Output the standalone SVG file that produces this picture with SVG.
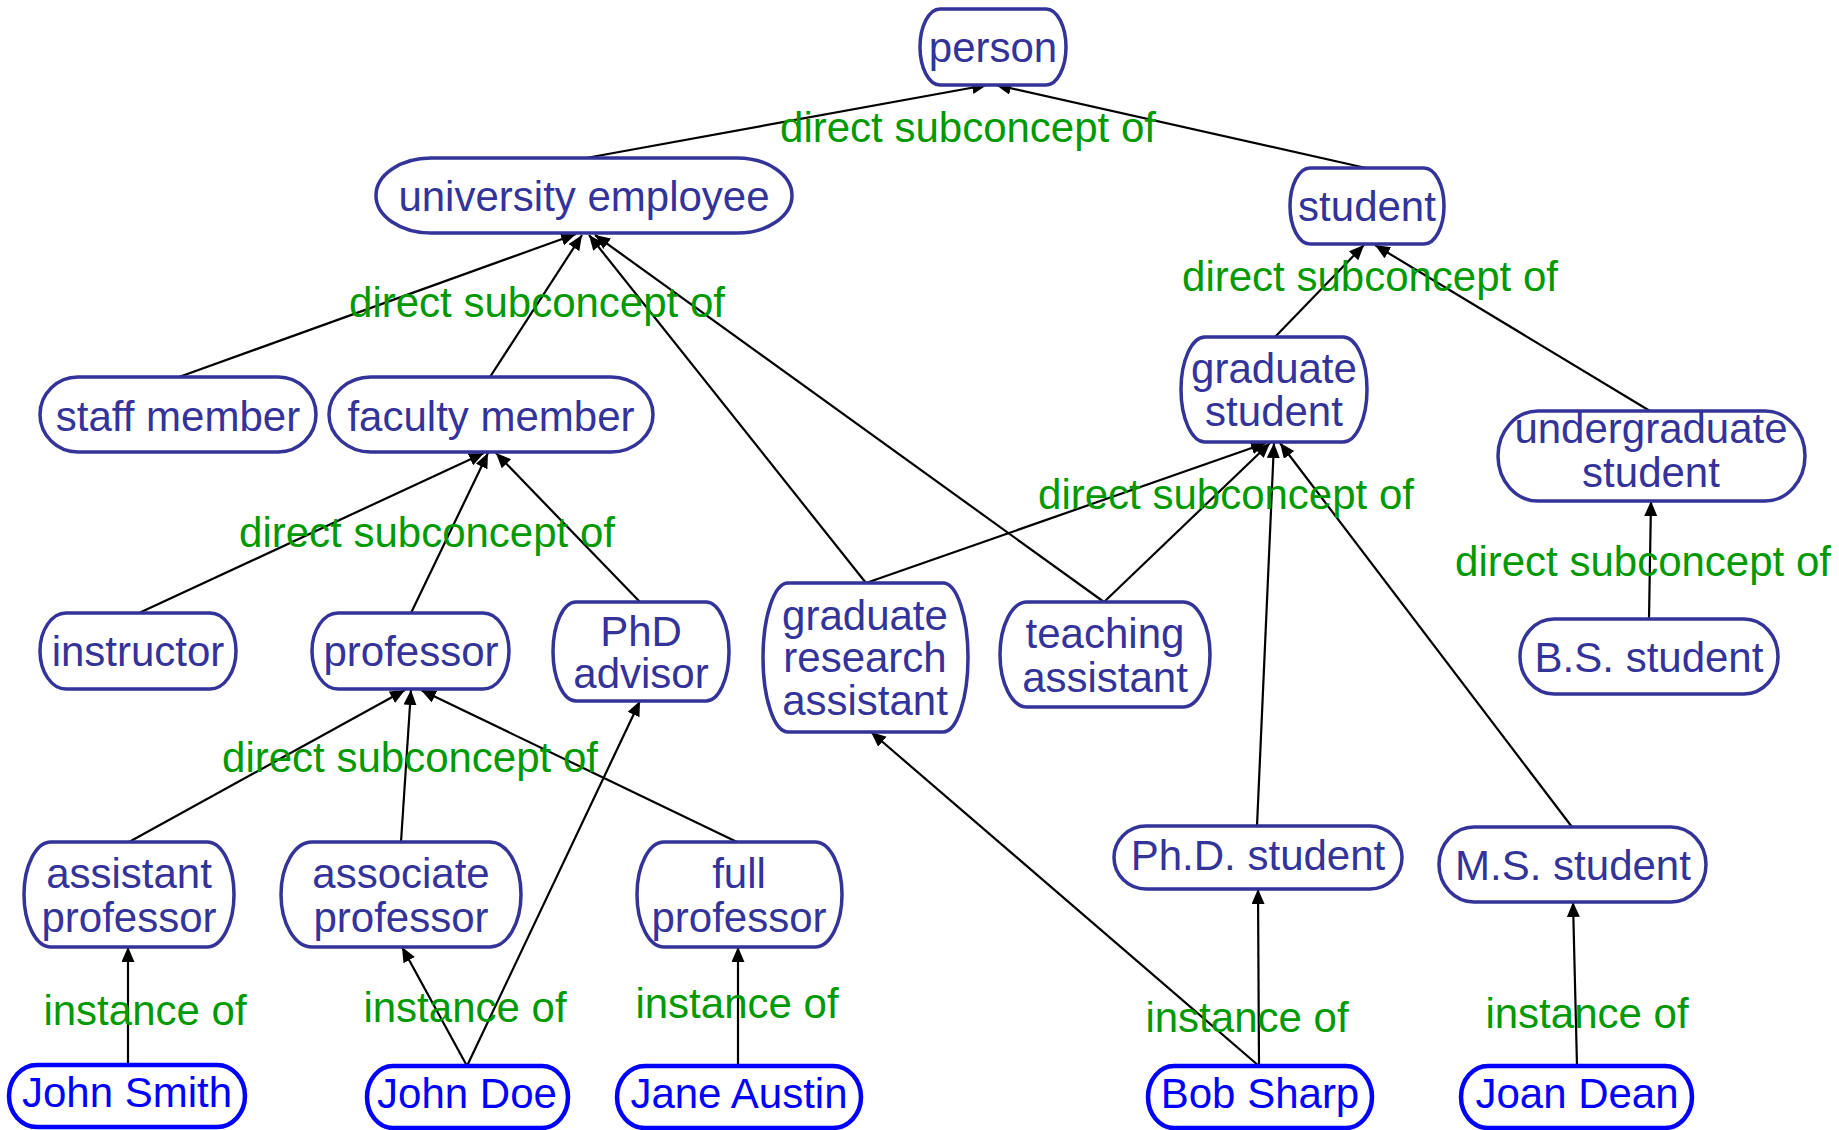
<svg xmlns="http://www.w3.org/2000/svg" width="1839" height="1130" viewBox="0 0 1839 1130">
<style>
text{font-family:"Liberation Sans",Arial,sans-serif;font-size:42px;text-anchor:middle}
.c rect{fill:#fff;stroke:#333399;stroke-width:3.5}
.c text{fill:#333399}
.i rect{fill:#fff;stroke:#0000ff;stroke-width:4.5}
.i text{fill:#0000ff}
.lbl{fill:#009900}
.e{stroke:#000;stroke-width:2.2;fill:none;marker-end:url(#arr)}
</style>
<defs>
<marker id="arr" markerUnits="userSpaceOnUse" markerWidth="17" markerHeight="14" refX="15" refY="6.5" orient="auto">
<path d="M0,0 L15,6.5 L0,13 z" fill="#000"/>
</marker>
</defs>
<rect width="1839" height="1130" fill="#fff"/>
<g id="connectors">
<line class="e" x1="586" y1="158" x2="987" y2="85"/>
<line class="e" x1="1366" y1="168" x2="996" y2="85"/>
<line class="e" x1="179" y1="377" x2="576" y2="234"/>
<line class="e" x1="490" y1="377" x2="582" y2="235"/>
<line class="e" x1="866" y1="583" x2="589" y2="235"/>
<line class="e" x1="1104" y1="602" x2="595" y2="235"/>
<line class="e" x1="1275" y1="337" x2="1364" y2="245"/>
<line class="e" x1="1650" y1="411" x2="1375" y2="245"/>
<line class="e" x1="139" y1="613" x2="484" y2="453"/>
<line class="e" x1="411" y1="613" x2="488" y2="453"/>
<line class="e" x1="640" y1="602" x2="496" y2="453"/>
<line class="e" x1="866" y1="583" x2="1266" y2="443"/>
<line class="e" x1="1104" y1="602" x2="1270" y2="443"/>
<line class="e" x1="1257" y1="826" x2="1274" y2="443"/>
<line class="e" x1="1572" y1="827" x2="1280" y2="443"/>
<line class="e" x1="1649" y1="619" x2="1651" y2="501"/>
<line class="e" x1="129" y1="842" x2="405" y2="690"/>
<line class="e" x1="401" y1="842" x2="411" y2="690"/>
<line class="e" x1="737" y1="842" x2="421" y2="690"/>
<line class="e" x1="128" y1="1065" x2="128" y2="947"/>
<line class="e" x1="467" y1="1066" x2="402" y2="947"/>
<line class="e" x1="467" y1="1066" x2="640" y2="701"/>
<line class="e" x1="738" y1="1066" x2="738" y2="947"/>
<line class="e" x1="1259" y1="1066" x2="1258" y2="889"/>
<line class="e" x1="1259" y1="1066" x2="871" y2="732"/>
<line class="e" x1="1577" y1="1066" x2="1573" y2="902"/>
<g class="lbl">
<text x="968" y="142" class="lbl">direct subconcept of</text>
<text x="537" y="317" class="lbl">direct subconcept of</text>
<text x="1370" y="291" class="lbl">direct subconcept of</text>
<text x="427" y="547" class="lbl">direct subconcept of</text>
<text x="410" y="772" class="lbl">direct subconcept of</text>
<text x="1226" y="509" class="lbl">direct subconcept of</text>
<text x="1643" y="576" class="lbl">direct subconcept of</text>
<text x="145" y="1025" class="lbl">instance of</text>
<text x="465" y="1022" class="lbl">instance of</text>
<text x="737" y="1018" class="lbl">instance of</text>
<text x="1247" y="1032" class="lbl">instance of</text>
<text x="1587" y="1028" class="lbl">instance of</text>
</g>
</g>
<g id="person" class="c"><rect x="920" y="9" width="146" height="76" rx="20" ry="38"/><text x="993" y="62">person</text></g>
<g id="university-employee" class="c"><rect x="376" y="158" width="416" height="75" rx="55" ry="37.5"/><text x="584" y="211">university employee</text></g>
<g id="student" class="c"><rect x="1290" y="168" width="154" height="76" rx="20" ry="38"/><text x="1367" y="221">student</text></g>
<g id="staff-member" class="c"><rect x="40" y="377" width="276" height="75" rx="38" ry="37.5"/><text x="178" y="431">staff member</text></g>
<g id="faculty-member" class="c"><rect x="329" y="377" width="324" height="75" rx="42" ry="37.5"/><text x="491" y="431">faculty member</text></g>
<g id="graduate-student" class="c"><rect x="1181" y="337" width="186" height="105" rx="24" ry="52.5"/><text x="1274" y="383">graduate</text><text x="1274" y="426">student</text></g>
<g id="undergraduate-student" class="c"><rect x="1498" y="411" width="307" height="90" rx="40" ry="45"/><text x="1651" y="443">undergraduate</text><text x="1651" y="487">student</text></g>
<g id="instructor" class="c"><rect x="40" y="613" width="196" height="76" rx="26" ry="38"/><text x="138" y="666">instructor</text></g>
<g id="professor" class="c"><rect x="312" y="613" width="197" height="76" rx="26" ry="38"/><text x="411" y="666">professor</text></g>
<g id="phd-advisor" class="c"><rect x="553" y="602" width="176" height="99" rx="23" ry="49.5"/><text x="641" y="646">PhD</text><text x="641" y="688">advisor</text></g>
<g id="graduate-research-assistant" class="c"><rect x="763" y="583" width="205" height="149" rx="25" ry="74.5"/><text x="865" y="630">graduate</text><text x="865" y="672">research</text><text x="865" y="715">assistant</text></g>
<g id="teaching-assistant" class="c"><rect x="1000" y="602" width="210" height="105" rx="27" ry="52.5"/><text x="1105" y="648">teaching</text><text x="1105" y="692">assistant</text></g>
<g id="bs-student" class="c"><rect x="1520" y="619" width="258" height="75" rx="34" ry="37.5"/><text x="1649" y="672">B.S. student</text></g>
<g id="phd-student" class="c"><rect x="1114" y="826" width="288" height="63" rx="32" ry="31.5"/><text x="1258" y="870">Ph.D. student</text></g>
<g id="ms-student" class="c"><rect x="1439" y="827" width="267" height="75" rx="35" ry="37.5"/><text x="1573" y="880">M.S. student</text></g>
<g id="assistant-professor" class="c"><rect x="24" y="842" width="210" height="105" rx="27" ry="52.5"/><text x="129" y="888">assistant</text><text x="129" y="932">professor</text></g>
<g id="associate-professor" class="c"><rect x="281" y="842" width="240" height="105" rx="31" ry="52.5"/><text x="401" y="888">associate</text><text x="401" y="932">professor</text></g>
<g id="full-professor" class="c"><rect x="637" y="842" width="205" height="105" rx="27" ry="52.5"/><text x="739" y="888">full</text><text x="739" y="932">professor</text></g>
<g id="john-smith" class="i"><rect x="9" y="1065" width="236" height="62" rx="28" ry="31"/><text x="127" y="1107">John Smith</text></g>
<g id="john-doe" class="i"><rect x="367" y="1066" width="201" height="62" rx="26" ry="31"/><text x="467" y="1108">John Doe</text></g>
<g id="jane-austin" class="i"><rect x="617" y="1066" width="244" height="62" rx="28" ry="31"/><text x="739" y="1108">Jane Austin</text></g>
<g id="bob-sharp" class="i"><rect x="1148" y="1066" width="224" height="62" rx="26" ry="31"/><text x="1260" y="1108">Bob Sharp</text></g>
<g id="joan-dean" class="i"><rect x="1461" y="1066" width="231" height="62" rx="27" ry="31"/><text x="1577" y="1108">Joan Dean</text></g>
</svg>
